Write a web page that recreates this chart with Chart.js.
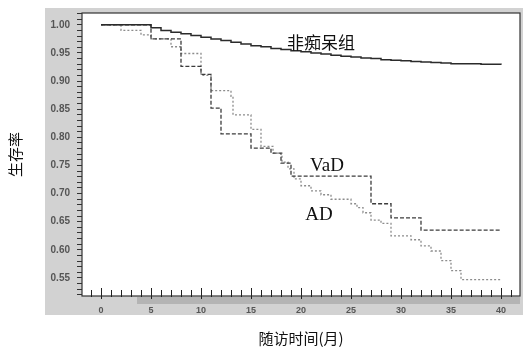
<!DOCTYPE html>
<html>
<head>
<meta charset="utf-8">
<script src="https://cdn.jsdelivr.net/npm/chart.js@4.4.0/dist/chart.umd.min.js"></script>
<style>
  body { margin: 0; background: #fff; }
  #wrap { width: 523px; height: 347px; }
</style>
</head>
<body>
<div id="wrap"><canvas id="km" width="523" height="347"></canvas></div>
<script>
// survival curves (month, survival rate)
const nonTime = [0, 5, 6, 7, 8, 9, 10, 11, 12, 13, 14, 15, 16, 17, 18, 19, 20, 21, 22, 23, 24, 25, 26, 27, 28, 29, 30, 31, 32, 33, 34, 35, 36, 38, 40]
const nonSurv = [1.0, 0.995, 0.99, 0.987, 0.984, 0.981, 0.978, 0.975, 0.972, 0.969, 0.966, 0.963, 0.961, 0.958, 0.956, 0.954, 0.952, 0.950, 0.948, 0.946, 0.944, 0.943, 0.941, 0.940, 0.938, 0.937, 0.936, 0.935, 0.934, 0.933, 0.932, 0.931, 0.931, 0.930, 0.929]

const vadTime = [0, 5, 8, 10, 11, 12, 15, 17, 18, 19, 27, 29, 32, 40]
const vadSurv = [1.0, 0.975, 0.926, 0.912, 0.852, 0.806, 0.781, 0.772, 0.754, 0.731, 0.682, 0.657, 0.635, 0.635]

const adTime = [0, 2, 4, 5, 7, 8, 10, 11, 13, 13.2, 15, 16, 17.2, 18.1, 18.7, 19.3, 20, 21, 22, 23, 25, 25.6, 26.2, 27, 28, 29, 31, 32, 33, 34, 35, 36, 40]
const adSurv = [1.0, 0.99, 0.982, 0.975, 0.961, 0.949, 0.910, 0.883, 0.873, 0.840, 0.814, 0.784, 0.772, 0.756, 0.744, 0.726, 0.714, 0.705, 0.698, 0.690, 0.682, 0.675, 0.666, 0.653, 0.647, 0.625, 0.618, 0.607, 0.598, 0.581, 0.563, 0.547, 0.547]

const xTicks = [0, 5, 10, 15, 20, 25, 30, 35, 40]
const yTicks = [0.55, 0.60, 0.65, 0.70, 0.75, 0.80, 0.85, 0.90, 0.95, 1.00]

const groupNames = ['非痴呆组', 'VaD', 'AD']
const xTitle = '随访时间(月)'
const yTitle = '生存率'

const pts = (t, s) => t.map((x, i) => ({ x: x, y: s[i] }))

// gray scan background, white plot area
const backdrop = {
    id: 'backdrop',
    beforeDraw(chart) {
        const { ctx, chartArea: a } = chart
        ctx.save()
        ctx.fillStyle = '#fff'
        ctx.fillRect(0, 0, chart.width, chart.height)
        ctx.fillStyle = '#d2d2d2'
        ctx.fillRect(45, 8, chart.width - 45, 307)
        ctx.fillStyle = '#b4b4b4'
        ctx.fillRect(137, a.bottom + 1, a.right - 137, 7)
        ctx.fillStyle = '#fff'
        ctx.fillRect(a.left, a.top, a.right - a.left, a.bottom - a.top)
        ctx.restore()
    },
    afterDatasetsDraw(chart) {
        const { ctx, chartArea: a, scales } = chart
        const xs = scales.x, ys = scales.y
        ctx.save()
        ctx.strokeStyle = '#333'
        ctx.lineWidth = 1.2
        ctx.strokeRect(a.left, a.top, a.right - a.left, a.bottom - a.top)
        // x ticks point into the plot
        ctx.lineWidth = 1
        ctx.strokeStyle = '#222'
        xs.ticks.forEach(t => {
            const px = Math.round(xs.getPixelForValue(t.value)) + 0.5
            const major = xTicks.includes(t.value)
            ctx.beginPath()
            ctx.moveTo(px, a.bottom + (major ? 3 : 1))
            ctx.lineTo(px, a.bottom - (major ? 8 : 6))
            ctx.stroke()
        })
        // group labels
        ctx.fillStyle = '#111'
        ctx.textAlign = 'center'
        ctx.textBaseline = 'middle'
        ctx.font = '17px "Noto Sans CJK SC"'
        ctx.fillText(groupNames[0], xs.getPixelForValue(22), ys.getPixelForValue(0.968))
        ctx.font = '19px "Liberation Serif"'
        ctx.fillText(groupNames[1], xs.getPixelForValue(22.6), ys.getPixelForValue(0.749))
        ctx.fillText(groupNames[2], xs.getPixelForValue(21.8), ys.getPixelForValue(0.662))
        ctx.restore()
    }
}

const ctx = document.getElementById('km').getContext('2d')
new Chart(ctx, {
    type: 'line',
    data: {
        datasets: [{
            label: groupNames[0],
            data: pts(nonTime, nonSurv),
            borderColor: '#2b2b2b',
            borderWidth: 1.5,
            stepped: 'before'
        }, {
            label: groupNames[1],
            data: pts(vadTime, vadSurv),
            borderColor: '#3c3c3c',
            borderWidth: 1.3,
            borderDash: [4, 2],
            stepped: 'before'
        }, {
            label: groupNames[2],
            data: pts(adTime, adSurv),
            borderColor: '#8c8c8c',
            borderWidth: 1.3,
            borderDash: [2, 2],
            stepped: 'before'
        }]
    },
    options: {
        responsive: false,
        animation: false,
        elements: { point: { radius: 0 } },
        layout: { padding: { left: 0, top: 11, right: 3, bottom: 0 } },
        plugins: { legend: { display: false }, tooltip: { enabled: false } },
        scales: {
            x: {
                type: 'linear',
                min: -1.9,
                max: 41.9,
                afterFit: (s) => { s.height = 51 },
                afterBuildTicks: (s) => {
                    const t = []
                    for (let v = -1; v <= 41; v++) t.push({ value: v })
                    s.ticks = t
                },
                grid: { display: false, drawTicks: false },
                border: { display: false },
                ticks: {
                    autoSkip: false,
                    maxRotation: 0,
                    padding: 9,
                    color: '#555',
                    font: { family: 'Liberation Sans', size: 9, weight: 'bold' },
                    callback: (v) => xTicks.includes(v) ? String(v) : ''
                },
                title: {
                    display: true,
                    text: xTitle,
                    color: '#111',
                    padding: { top: 0, bottom: 0 },
                    font: { family: 'Noto Sans CJK SC', size: 15 }
                }
            },
            y: {
                type: 'linear',
                min: 0.518,
                max: 1.021,
                afterFit: (s) => { s.width = 82 },
                afterBuildTicks: (s) => {
                    const t = []
                    for (let k = 52; k <= 102; k++) t.push({ value: k / 100 })
                    s.ticks = t
                },
                grid: { drawOnChartArea: false, tickLength: 5, color: '#333' },
                border: { display: false },
                ticks: {
                    autoSkip: false,
                    padding: 7,
                    color: '#555',
                    font: { family: 'Liberation Sans', size: 10, weight: 'bold' },
                    callback: (v) => yTicks.some(y => Math.round(y * 100) === Math.round(v * 100)) ? v.toFixed(2) : ''
                },
                title: {
                    display: true,
                    text: yTitle,
                    color: '#111',
                    padding: { top: 6, bottom: 0 },
                    font: { family: 'Noto Sans CJK SC', size: 15 }
                }
            }
        }
    },
    plugins: [backdrop]
})
</script>
</body>
</html>
